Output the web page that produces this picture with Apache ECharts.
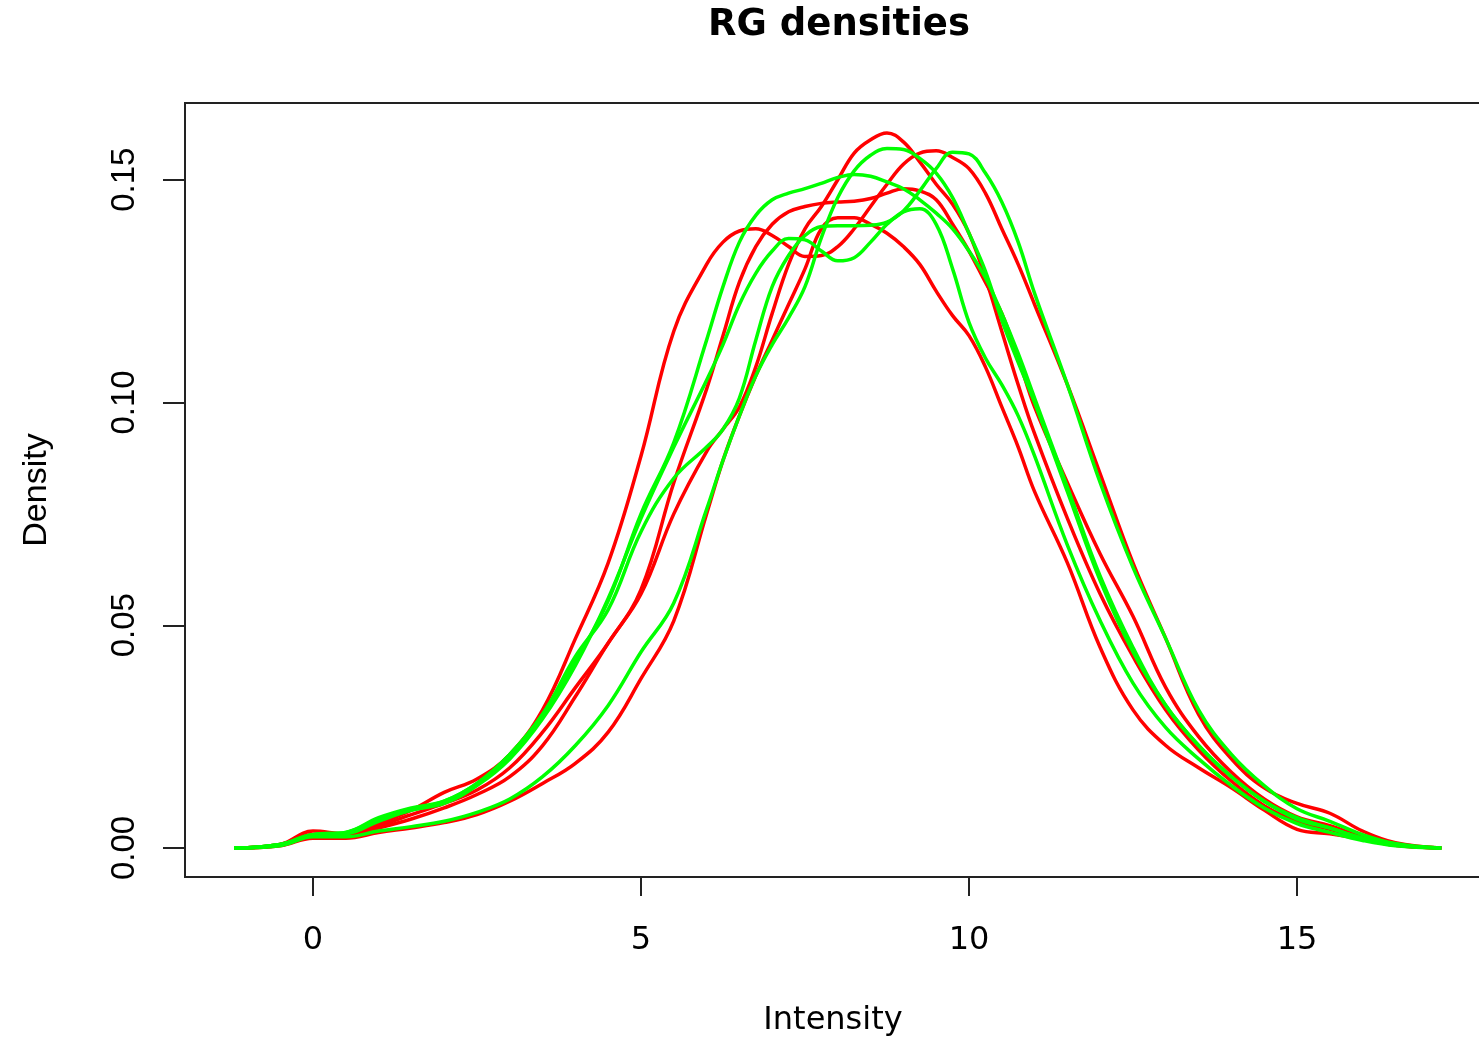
<!DOCTYPE html>
<html>
<head>
<meta charset="utf-8">
<script src="https://cdn.jsdelivr.net/npm/echarts@6/dist/echarts.min.js"></script>
<style>
html,body{margin:0;padding:0;background:#fff;}
#chart{width:1479px;height:1037px;}
</style>
</head>
<body>
<div id="chart"></div>
<script>
// Intensity grid (x values shared by all density curves)
const xs = [-1.2, -0.5, 0, 0.5, 1, 1.5, 2, 2.5, 3, 3.5, 4, 4.5, 5, 5.5, 6, 6.25, 6.5, 6.75, 7, 7.25, 7.5, 7.75, 8, 8.25, 8.5, 8.75, 9, 9.25, 9.5, 9.75, 10, 10.25, 10.5, 10.75, 11, 11.5, 12, 12.5, 13, 13.5, 14, 14.5, 15, 15.5, 16, 16.5, 17.2];

// Red channel densities
const red1 = [0, 0.0008, 0.0038, 0.0032, 0.0055, 0.0085, 0.0125, 0.0155, 0.021, 0.031, 0.047, 0.064, 0.088, 0.116, 0.131, 0.136, 0.1385, 0.139, 0.1375, 0.135, 0.1328, 0.133, 0.135, 0.139, 0.144, 0.149, 0.1535, 0.156, 0.1565, 0.155, 0.1525, 0.147, 0.139, 0.131, 0.122, 0.104, 0.084, 0.064, 0.047, 0.030, 0.020, 0.0135, 0.010, 0.0078, 0.0038, 0.0012, 0];
const red2 = [0, 0.0006, 0.0028, 0.0028, 0.0045, 0.0065, 0.009, 0.012, 0.016, 0.023, 0.034, 0.046, 0.057, 0.075, 0.089, 0.094, 0.099, 0.108, 0.120, 0.131, 0.139, 0.144, 0.150, 0.156, 0.159, 0.1605, 0.1585, 0.154, 0.149, 0.1445, 0.138, 0.128, 0.116, 0.104, 0.093, 0.074, 0.057, 0.043, 0.031, 0.022, 0.015, 0.0095, 0.006, 0.0042, 0.0021, 0.0006, 0];
const red3 = [0, 0.0008, 0.003, 0.003, 0.005, 0.0075, 0.010, 0.013, 0.018, 0.026, 0.036, 0.046, 0.058, 0.082, 0.103, 0.115, 0.127, 0.135, 0.140, 0.1428, 0.144, 0.1447, 0.145, 0.1452, 0.1458, 0.147, 0.148, 0.1475, 0.1455, 0.140, 0.134, 0.127, 0.120, 0.110, 0.099, 0.082, 0.066, 0.052, 0.036, 0.025, 0.017, 0.011, 0.007, 0.005, 0.0025, 0.0007, 0];
const red4 = [0, 0.0005, 0.0022, 0.0022, 0.0035, 0.0045, 0.0057, 0.0075, 0.0105, 0.0145, 0.019, 0.026, 0.038, 0.051, 0.075, 0.087, 0.097, 0.106, 0.114, 0.122, 0.130, 0.139, 0.1415, 0.1415, 0.140, 0.138, 0.135, 0.131, 0.125, 0.1195, 0.115, 0.108, 0.099, 0.090, 0.080, 0.064, 0.045, 0.031, 0.023, 0.018, 0.0135, 0.0085, 0.0042, 0.0032, 0.002, 0.0006, 0];

// Green channel densities
const green1 = [0, 0.0008, 0.003, 0.0035, 0.0065, 0.0085, 0.0105, 0.0145, 0.021, 0.030, 0.042, 0.0555, 0.075, 0.091, 0.114, 0.126, 0.136, 0.142, 0.1455, 0.147, 0.148, 0.1492, 0.1505, 0.1512, 0.1508, 0.1495, 0.148, 0.1455, 0.1425, 0.139, 0.134, 0.128, 0.120, 0.111, 0.101, 0.081, 0.061, 0.045, 0.032, 0.023, 0.016, 0.0105, 0.0065, 0.0045, 0.0022, 0.0007, 0];
const green2 = [0, 0.0005, 0.0025, 0.0025, 0.0038, 0.0048, 0.006, 0.008, 0.011, 0.016, 0.023, 0.032, 0.044, 0.055, 0.076, 0.087, 0.097, 0.106, 0.113, 0.119, 0.126, 0.137, 0.146, 0.152, 0.1555, 0.157, 0.1568, 0.1548, 0.1515, 0.146, 0.138, 0.1295, 0.1185, 0.109, 0.100, 0.080, 0.060, 0.044, 0.032, 0.023, 0.016, 0.0105, 0.0068, 0.0045, 0.0022, 0.0007, 0];
const green3 = [0, 0.0008, 0.003, 0.0035, 0.0068, 0.009, 0.0105, 0.0145, 0.021, 0.030, 0.043, 0.0535, 0.071, 0.083, 0.090, 0.094, 0.101, 0.114, 0.126, 0.133, 0.1375, 0.1395, 0.1397, 0.1397, 0.1398, 0.1405, 0.143, 0.1475, 0.1525, 0.1562, 0.1558, 0.1515, 0.145, 0.136, 0.1245, 0.104, 0.082, 0.063, 0.047, 0.031, 0.021, 0.014, 0.0088, 0.006, 0.003, 0.001, 0];
const green4 = [0, 0.0008, 0.003, 0.0032, 0.006, 0.0085, 0.010, 0.014, 0.020, 0.029, 0.041, 0.056, 0.074, 0.090, 0.105, 0.113, 0.122, 0.129, 0.134, 0.1368, 0.1365, 0.134, 0.1318, 0.1325, 0.136, 0.140, 0.1428, 0.1435, 0.140, 0.130, 0.118, 0.110, 0.104, 0.097, 0.088, 0.068, 0.051, 0.037, 0.027, 0.020, 0.014, 0.009, 0.0055, 0.0035, 0.0017, 0.0005, 0];

// Tick values and labels
const xTickValues = [0, 5, 10, 15];
const xTickLabels = ['0', '5', '10', '15'];
const yTickValues = [0, 0.05, 0.10, 0.15];
const yTickLabels = ['0.00', '0.05', '0.10', '0.15'];

const redSeries = [red1, red2, red3, red4];
const greenSeries = [green1, green2, green3, green4];

function pairs(ys) { return xs.map((x, i) => [x, ys[i]]); }
function mk(ys, color, name) {
  return {
    name: name, type: 'line', data: pairs(ys), showSymbol: false,
    smooth: 0.4,
    lineStyle: { color: color, width: 3.5 }, itemStyle: { color: color },
    silent: true, animation: false, z: 2
  };
}
const series = [];
redSeries.forEach((s, i) => series.push(mk(s, '#ff0000', 'R' + (i + 1))));
greenSeries.forEach((s, i) => series.push(mk(s, '#00ff00', 'G' + (i + 1))));

const chart = echarts.init(document.getElementById('chart'), null, { renderer: 'canvas' });
chart.setOption({
  animation: false,
  backgroundColor: '#ffffff',
  title: {
    text: 'RG densities', left: 834, top: 2, textAlign: 'center',
    textStyle: { fontFamily: 'DejaVu Sans', fontWeight: 'bold', fontSize: 37, color: '#000' }
  },
  grid: { left: 185, top: 103, width: 1296, height: 774, show: true, borderColor: '#222', borderWidth: 2, backgroundColor: 'transparent', containLabel: false, outerBoundsMode: 'none' },
  xAxis: {
    type: 'value', min: -1.951, max: 17.805,
    axisLine: { show: false, onZero: false },
    splitLine: { show: false },
    axisTick: { show: true, customValues: xTickValues, length: 19, inside: false, lineStyle: { color: '#222', width: 2 } },
    axisLabel: {
      show: true, customValues: xTickValues, margin: 48,
      formatter: v => xTickLabels[xTickValues.indexOf(v)] ?? '',
      fontFamily: 'DejaVu Sans', fontSize: 32, color: '#000'
    },
    name: 'Intensity', nameLocation: 'middle', nameGap: 128,
    nameTextStyle: { fontFamily: 'DejaVu Sans', fontSize: 32, color: '#000' }
  },
  yAxis: {
    type: 'value', min: -0.00651, max: 0.16723,
    axisLine: { show: false, onZero: false },
    splitLine: { show: false },
    axisTick: { show: true, customValues: yTickValues, length: 22, inside: false, lineStyle: { color: '#222', width: 2 } },
    axisLabel: {
      show: true, customValues: yTickValues, margin: 44, rotate: 90,
      formatter: v => {
        const i = yTickValues.findIndex(t => Math.abs(t - v) < 1e-9);
        return i >= 0 ? yTickLabels[i] : '';
      },
      fontFamily: 'Liberation Sans', fontSize: 33, color: '#000'
    },
    name: 'Density', nameLocation: 'middle', nameGap: 131, nameRotate: 90,
    nameTextStyle: { fontFamily: 'Liberation Sans', fontSize: 34, color: '#000' }
  },
  series: series
});
</script>
</body>
</html>
